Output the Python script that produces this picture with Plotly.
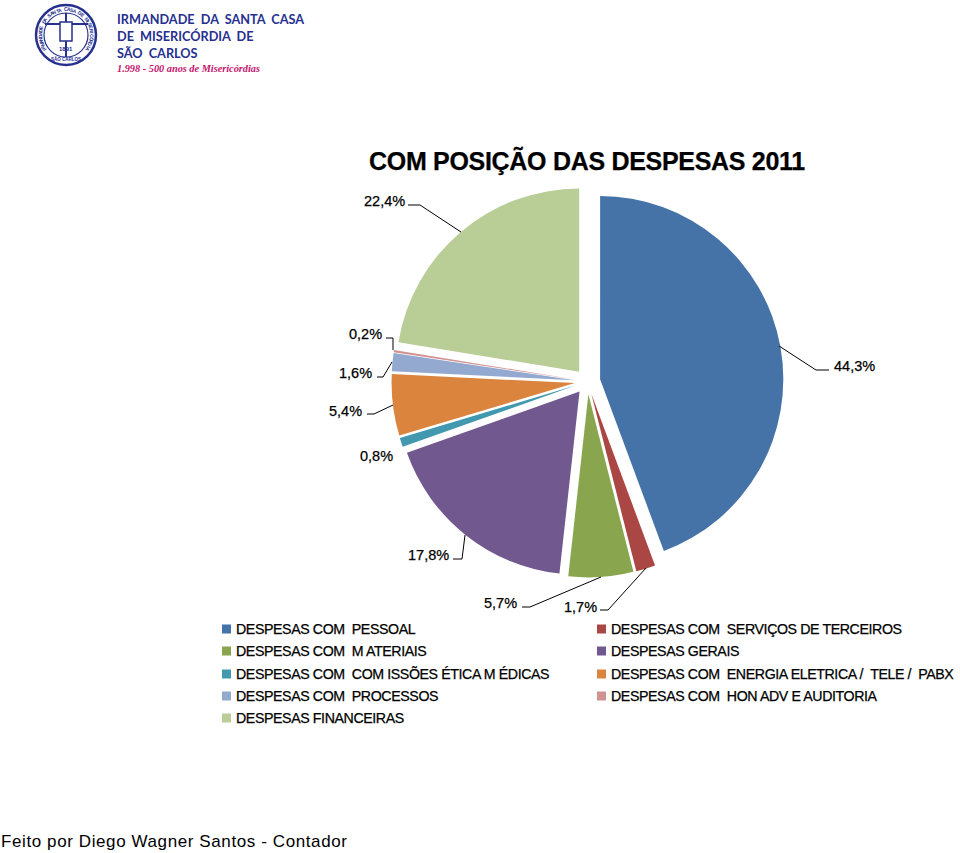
import math
import plotly.graph_objects as go

W, H = 960, 853

categories = [
    "DESPESAS COM PESSOAL", "DESPESAS COM SERVIÇOS DE TERCEIROS", "DESPESAS COM MATERIAIS",
    "DESPESAS GERAIS", "DESPESAS COM COMISSÕES ÉTICA MÉDICAS",
    "DESPESAS COM ENERGIA ELETRICA / TELE / PABX", "DESPESAS COM PROCESSOS",
    "DESPESAS COM HON ADV E AUDITORIA", "DESPESAS FINANCEIRAS",
]
values = [44.3, 1.7, 5.7, 17.8, 0.8, 5.4, 1.6, 0.2, 22.4]
value_labels = ["44,3%", "1,7%", "5,7%", "17,8%", "0,8%", "5,4%", "1,6%", "0,2%", "22,4%"]
colors = ["#4573A7", "#AA4643", "#89A54E", "#71588F", "#4198AF", "#DB843D", "#93A9CF", "#D19392", "#B9CD96"]
legend_text = [
    "DESPESAS COM  PESSOAL", "DESPESAS COM  SERVIÇOS DE TERCEIROS", "DESPESAS COM  M ATERIAIS",
    "DESPESAS GERAIS", "DESPESAS COM  COM ISSÕES ÉTICA M ÉDICAS",
    "DESPESAS COM  ENERGIA ELETRICA /  TELE /  PABX", "DESPESAS COM  PROCESSOS",
    "DESPESAS COM  HON ADV E AUDITORIA", "DESPESAS FINANCEIRAS",
]


def px(x):
    return x / W


def py(y):
    return 1 - y / H


def label(text, x, y, size, color="black", anchor="left", family="Liberation Sans", bold=False, angle=0):
    if bold:
        text = "<b>" + text + "</b>"
    fig.add_annotation(text=text.replace("  ", "\u00a0\u00a0"), x=px(x), y=py(y), xref="paper", yref="paper",
                       showarrow=False, xanchor=anchor, yanchor="middle", textangle=angle,
                       font=dict(size=size, color=color, family=family))


def path(points, color="black", width=1):
    d = "M " + " L ".join(f"{px(a)} {py(b)}" for a, b in points)
    fig.add_shape(type="path", path=d, xref="paper", yref="paper", line=dict(color=color, width=width))


def ring(x, y, r, color, width):
    fig.add_shape(type="circle", xref="paper", yref="paper", x0=px(x - r), x1=px(x + r), y0=py(y + r), y1=py(y - r),
                  line=dict(color=color, width=width))


cx, cy, half = 587.5, 381.5, 196
fig = go.Figure(go.Pie(
    labels=categories, values=values, sort=False, direction="clockwise", rotation=0,
    pull=0.07, textinfo="none", hoverinfo="label+percent",
    marker=dict(colors=colors, line=dict(width=0)),
    domain=dict(x=[px(cx - half), px(cx + half)], y=[py(cy + half), py(cy - half)]),
))

# value labels and their leader lines
label_pos = [(832, 366, "left"), (599, 607, "right"), (519, 603, "right"), (451, 555, "right"), (395, 456, "right"),
             (364, 411, "right"), (374, 373, "right"), (384, 334, "right"), (407, 201, "right")]
for txt, (lx, ly, a) in zip(value_labels, label_pos):
    label(txt, lx, ly, 14.5, anchor=a)

leaders = [
    [(829, 370), (816, 370), (779, 346)],
    [(600, 610), (608, 610), (646, 568)],
    [(522, 607), (530, 607), (601, 577)],
    [(453, 559), (462, 559), (465, 535)],
    [(386, 338), (393, 338), (393, 350)],
    [(377, 377), (383, 377), (392, 362)],
    [(367, 414), (374, 414), (393, 405)],
    [(408, 205), (420, 205), (461, 232)],
]
for pts in leaders:
    path(pts)

label("COM POSIÇÃO DAS DESPESAS 2011", 367, 160, 25, bold=True)

# legend, two columns
rows = [629, 651, 674, 696, 718]
for i, (txt, col) in enumerate(zip(legend_text, colors)):
    row = rows[i // 2]
    x0 = 222 if i % 2 == 0 else 597
    fig.add_shape(type="rect", xref="paper", yref="paper", x0=px(x0), x1=px(x0 + 9), y0=py(row + 4.5), y1=py(row - 4.5),
                  fillcolor=col, line=dict(width=0))
    label(txt, x0 + 12, row, 14.2)

label("Feito por Diego Wagner Santos - Contador", -1, 841, 17)

# letterhead
navy = "#25308F"
ring(66, 35, 30, navy, 2.5)
ring(66, 35, 22, navy, 1.2)
path([(45, 24), (88, 24)], navy, 2)
path([(66, 13), (66, 57)], navy, 2)
fig.add_shape(type="rect", xref="paper", yref="paper", x0=px(60), x1=px(72), y0=py(41), y1=py(22),
              fillcolor="white", line=dict(color=navy, width=1.5))
label("1891", 66, 49, 6, navy, anchor="center", bold=True)

# tiny lettering round the seal
seal_text = "IRMANDADE DA SANTA CASA DE MISERICÓRDIA"
for i, ch in enumerate(seal_text):
    ang = -125 + i * 250 / (len(seal_text) - 1)
    label(ch, 66 + 26 * math.sin(math.radians(ang)), 35 - 26 * math.cos(math.radians(ang)), 5, navy,
          anchor="center", bold=True, angle=ang)
label("SÃO CARLOS", 66, 59, 4.5, navy, anchor="center", bold=True)

label("IRMANDADE  DA  SANTA  CASA", 115, 19, 12.7, navy, family="Lato", bold=True)
label("DE  MISERICÓRDIA  DE", 115, 36, 12.7, navy, family="Lato", bold=True)
label("SÃO  CARLOS", 115, 53, 12.7, navy, family="Lato", bold=True)
label("<i>1.998 - 500 anos de Misericórdias</i>", 115, 69, 10.3, "#C4146C", family="Liberation Serif", bold=True)

fig.update_layout(width=W, height=H, margin=dict(l=0, r=0, t=0, b=0), paper_bgcolor="white", showlegend=False)

# the source has faux-bold text with uneven tracking, plotly has no option for that
tweak = """
document.body.style.margin = '0';
var tracking = {'25px': -0.3, '14.2px': -0.4, '17px': 0.6};
document.querySelectorAll('.annotation-text').forEach(function (t) {
    if (t.style.fill !== 'rgb(0, 0, 0)') return;
    var before = t.getBBox().x;
    var ls = tracking[t.style.fontSize];
    if (ls) t.style.letterSpacing = ls + 'px';
    if (t.style.fontSize !== '17px') {
        t.style.stroke = 'black';
        t.style.strokeWidth = '0.25px';
    }
    t.setAttribute('transform', 'translate(' + (before - t.getBBox().x) + ',0)');
});
"""
fig.write_html("out.html", config={"displayModeBar": False}, post_script=tweak)
